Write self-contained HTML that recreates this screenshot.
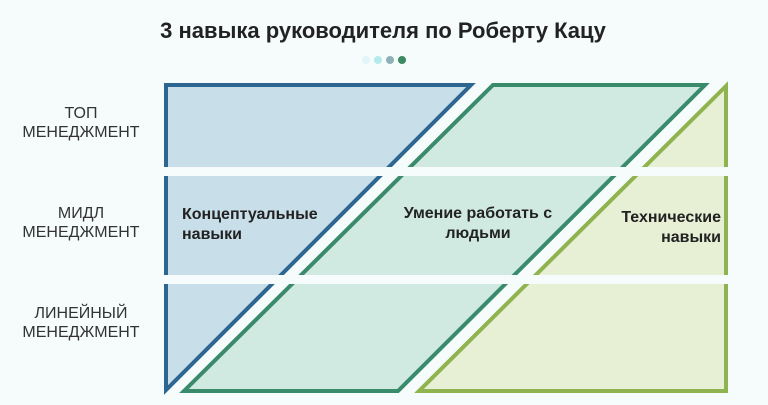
<!DOCTYPE html>
<html><head><meta charset="utf-8"><style>
body{margin:0;background:#f6fcfc;width:768px;height:400px;overflow:hidden;font-family:"Liberation Sans",sans-serif}
</style></head><body>
<svg width="768" height="400" viewBox="0 0 768 400" xmlns="http://www.w3.org/2000/svg">
<rect width="768" height="400" fill="#f6fcfc"/>
<text x="383" y="38" text-anchor="middle" font-size="22" font-weight="bold" fill="#222">3 навыка руководителя по Роберту Кацу</text>
<circle cx="366" cy="60" r="4" fill="#e0f6f8"/>
<circle cx="378" cy="60" r="4" fill="#b4eaec"/>
<circle cx="390" cy="60" r="4" fill="#8fb0b8"/>
<circle cx="402" cy="60" r="4" fill="#3a8a62"/>
<polygon points="166,85 471,85 166,390" fill="#c8dee8" stroke="#2d6690" stroke-width="4" stroke-linejoin="miter"/>
<polygon points="493,85 705,85 398,391 184,391" fill="#d0eae2" stroke="#3a8a6c" stroke-width="4"/>
<polygon points="726,86 726,391 419,391" fill="#e7efd5" stroke="#8fb34e" stroke-width="4"/>
<rect x="150" y="167" width="610" height="9" fill="#f6fcfc"/>
<rect x="150" y="275" width="610" height="9" fill="#f6fcfc"/>
<g font-size="16" fill="#333" text-anchor="middle">
<text x="81" y="118">ТОП</text><text x="81" y="137">МЕНЕДЖМЕНТ</text>
<text x="81" y="218">МИДЛ</text><text x="81" y="237">МЕНЕДЖМЕНТ</text>
<text x="81" y="318">ЛИНЕЙНЫЙ</text><text x="81" y="337">МЕНЕДЖМЕНТ</text>
</g>
<g font-size="16" font-weight="bold" fill="#222">
<text x="182" y="219">Концептуальные</text><text x="182" y="239">навыки</text>
<text x="478" y="218" text-anchor="middle">Умение работать с</text><text x="478" y="238" text-anchor="middle">людьми</text>
<text x="721" y="222" text-anchor="end">Технические</text><text x="721" y="242" text-anchor="end">навыки</text>
</g>
</svg>
</body></html>
